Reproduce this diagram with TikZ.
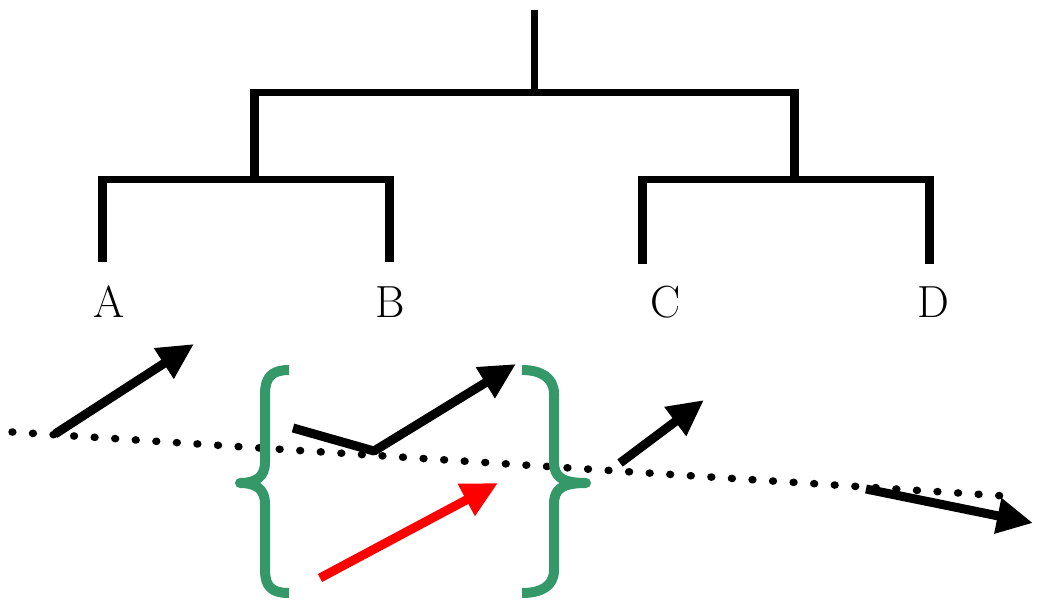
\documentclass[tikz,border=0pt]{standalone}
\usetikzlibrary{arrows.meta}
\definecolor{bracegreen}{RGB}{52,152,104}
\begin{document}
\begin{tikzpicture}[x=1pt,y=-1pt,
  treeline/.style={line width=7pt, line join=miter},
  leafline/.style={line width=9pt},
  lab/.style={anchor=base, inner sep=0pt, font=\fontsize{45}{50}\selectfont},
  dotline/.style={line width=7.5pt, line cap=round, dash pattern=on 0.8pt off 19.8pt},
  arr/.style={line width=9pt, line join=round, -{Triangle[length=36pt,width=34pt]}},
  redarr/.style={arr, red},
  brace/.style={line width=10pt, bracegreen, line join=round}]
\useasboundingbox (0,0) rectangle (1038,601);
% tree
\coordinate (root) at (534,10);
\coordinate (top) at (534,93);
\coordinate (ab) at (254,180);
\coordinate (cd) at (794,180);
\coordinate (la) at (102,262);
\coordinate (lb) at (389,262);
\coordinate (lc) at (642,264);
\coordinate (ld) at (929,264);
\draw[treeline] (root) -- (top);
\draw[treeline] (ab) |- (top) -| (cd);
\draw[treeline] (la) |- (ab) -| (lb);
\draw[treeline] (lc) |- (cd) -| (ld);
\foreach \l in {la,lb,lc,ld}
  \draw[leafline] (\l) -- ([yshift=3.5pt]\l |- ab);
\draw[leafline] (ab) -- ([yshift=3.5pt]ab |- top);
\draw[leafline] (cd) -- ([yshift=3.5pt]cd |- top);
\node[lab] (A) at (109,318) {A};
\node[lab] (B) at (390,318) {B};
\node[lab] (C) at (666,318) {C};
\node[lab] (D) at (933,318) {D};
% dotted line
\coordinate (ds) at (12,432);
\coordinate (de) at (1005,496);
\draw[dotline] (ds) -- (de);
% black arrows
\coordinate (a1s) at (55,434);
\coordinate (a1e) at (194,344);
\draw[arr] (a1s) -- (a1e);
\coordinate (a2s) at (293,428);
\coordinate (a2m) at (374,451);
\coordinate (a2e) at (516,364);
\draw[arr] (a2s) -- (a2m) -- (a2e);
\coordinate (a3s) at (620,463);
\coordinate (a3e) at (704,400);
\draw[arr] (a3s) -- (a3e);
\coordinate (a4s) at (866,489);
\coordinate (a4e) at (1033,523);
\draw[arr] (a4s) -- (a4e);
% red arrow
\coordinate (rs) at (320,578);
\coordinate (re) at (498,483);
\draw[redarr] (rs) -- (re);
% braces
\coordinate (lbt) at (289,370);
\coordinate (lbc) at (240,483);
\coordinate (lbb) at (289,593);
\draw[brace] (lbt) .. controls (272,370) and (265,377) .. (265,394)
  -- (265,462) .. controls (265,477) and (256,483) .. (lbc)
  .. controls (256,483) and (265,489) .. (265,504)
  -- (265,570) .. controls (265,587) and (272,593) .. (lbb);
\coordinate (rbt) at (522,370);
\coordinate (rbc) at (586,483);
\coordinate (rbb) at (522,593);
\draw[brace] (rbt) .. controls (540,370) and (554,377) .. (554,394)
  -- (554,462) .. controls (554,477) and (562,483) .. (rbc)
  .. controls (562,483) and (554,489) .. (554,504)
  -- (554,570) .. controls (554,587) and (540,593) .. (rbb);
\end{tikzpicture}
\end{document}
